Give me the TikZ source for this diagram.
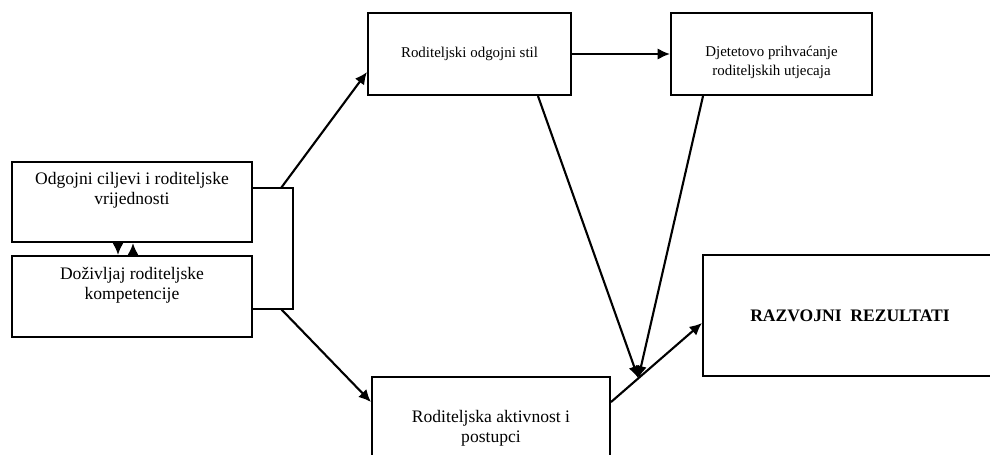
\documentclass[tikz,border=0pt]{standalone}
\usepackage{fontspec}
\setmainfont{Liberation Serif}
\usetikzlibrary{positioning, arrows.meta}

\begin{document}
\begin{tikzpicture}[x=0.02cm, y=-0.02cm,
    box/.style={draw, line width=1.2pt, inner sep=0pt},
    lbl/.style={align=center, inner sep=0pt, font=\fontsize{10}{11.5}\selectfont},
    lblsmall/.style={align=center, inner sep=0pt, font=\fontsize{8.5}{10.8}\selectfont},
    arr/.style={line width=1.2pt, -{Latex[length=7pt, width=6.5pt]}}]

    \useasboundingbox (0,0) rectangle (990,454);
    \clip (0,0) rectangle (990,454);

    % left column
    \node[box, minimum width=4.8cm, minimum height=1.6cm] (goals) at (132,202) {};
    \node[lbl] (goalstxt) at ([yshift=0.24cm]goals.center) {Odgojni ciljevi i roditeljske\\vrijednosti};
    \node[box, minimum width=4.8cm, minimum height=1.62cm] (selfcomp) at (132,296.5) {};
    \node[lbl] (selfcomptxt) at ([yshift=0.22cm]selfcomp.center) {Doživljaj roditeljske\\kompetencije};

    % top row
    \node[box, minimum width=4.06cm, minimum height=1.64cm, lblsmall] (style) at (469.5,54) {Roditeljski odgojni stil};
    \node[box, minimum width=4.02cm, minimum height=1.64cm] (accept) at (771.5,54) {};
    \node[lblsmall] (accepttxt) at ([yshift=-0.17cm]accept.center) {Djetetovo prihvaćanje\\roditeljskih utjecaja};

    % bottom row
    \node[box, minimum width=4.76cm, minimum height=2cm] (activity) at (491,427) {};
    \node[lbl] (activitytxt) at ([yshift=-0.02cm]activity.center) {Roditeljska aktivnost i\\postupci};
    \node[box, minimum width=5.88cm, minimum height=2.42cm, lbl, font=\fontsize{10}{12}\bfseries] (results) at (850,315.5) {RAZVOJNI\ \ REZULTATI};

    % bracket joining the two left boxes
    \coordinate (brtop) at ([yshift=0.28cm]goals.east);
    \coordinate (brbot) at ([yshift=-0.25cm]selfcomp.east);
    \draw[line width=1.2pt] (brtop) -- ++(40,0) |- (brbot);

    \draw[arr] ([xshift=-0.28cm]goals.south) -- ([xshift=-0.28cm]selfcomp.north);
    \draw[arr] ([xshift=0.02cm]selfcomp.north) -- ([xshift=0.02cm]goals.south);

    \draw[arr] ([xshift=0.56cm]brtop) -- ([yshift=-0.36cm]style.west);
    \draw[arr] ([xshift=0.56cm]brbot) -- ([yshift=0.5cm]activity.west);
    \draw[arr] (style) -- (accept);

    \coordinate (actout) at ([yshift=0.5cm]activity.east);
    \coordinate (resin) at ([yshift=-0.15cm]results.west);
    \draw[arr] (actout) -- (resin);
    \path (actout) -- (resin) coordinate[pos=0.3] (meet);

    \draw[arr] ([xshift=1.37cm]style.south) -- (meet);
    \draw[arr] ([xshift=-1.37cm]accept.south) -- (meet);

\end{tikzpicture}
\end{document}
